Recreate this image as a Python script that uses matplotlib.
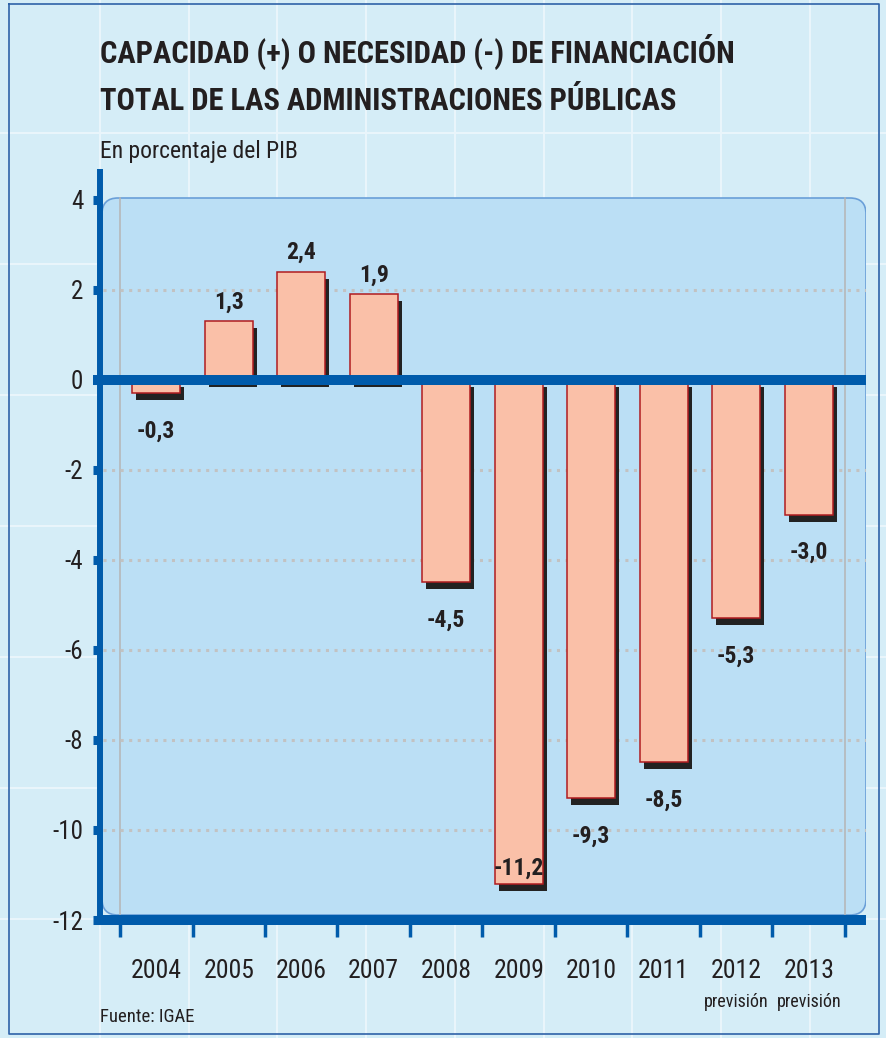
import numpy as np
import matplotlib.pyplot as plt
from matplotlib.patches import FancyBboxPatch
from matplotlib.lines import Line2D
from matplotlib.transforms import IdentityTransform, offset_copy, blended_transform_factory

# Data (% of GDP)
years = ['2004', '2005', '2006', '2007', '2008', '2009', '2010', '2011', '2012', '2013']
values = [-0.3, 1.3, 2.4, 1.9, -4.5, -11.2, -9.3, -8.5, -5.3, -3.0]
notes = ['', '', '', '', '', '', '', '', 'previsión', 'previsión']
yticks = [-12, -10, -8, -6, -4, -2, 0, 2, 4]

W, H = 886, 1038
BLUE = '#005bab'
TXT = '#231f20'

plt.rcParams['font.family'] = ['Roboto Condensed', 'Liberation Sans', 'DejaVu Sans']

fig = plt.figure(figsize=(W / 100, H / 100), dpi=100)
fig.patch.set_facecolor('#d5edf7')
px = IdentityTransform()

# faint background grid of the page
for x in np.arange(100, W, 88.7):
    fig.add_artist(Line2D([x, x], [0, H], transform=px, color='#e9f5fb', lw=1.5, zorder=-5))
for y in np.arange(H - 133, 0, -131):
    fig.add_artist(Line2D([0, W], [y, y], transform=px, color='#e9f5fb', lw=1.5, zorder=-5))
# page border
fig.add_artist(Line2D([9, 9, 879, 879, 9], [H - 4, H - 1034, H - 1034, H - 4, H - 4],
                      transform=px, color='#2f62a8', lw=1.2, zorder=-4))

ax = fig.add_axes([100 / W, 118 / H, 766 / W, 748 / H])
ax.set_facecolor('none')
ax.set_xlim(-0.776, 9.79)
ax.set_ylim(-12, 4.62)

# rounded light panel
panel = FancyBboxPatch((102, H - 915), 764, 717, boxstyle='round,pad=0,rounding_size=16',
                       transform=px, facecolor='#bbdff5', edgecolor='#6a9fd8', lw=1.2, zorder=0)
ax.add_patch(panel)

x = np.arange(len(years))
bounds = np.arange(-0.5, len(years), 1.0)

# thin grey verticals at the ends
for b in [bounds[0], bounds[-1]]:
    ax.plot([b, b], [-11.9, 4.05], color='#b5b5b5', lw=1.1, zorder=1)

# dotted grid
for t in yticks[1:-1]:
    if t != 0:
        ax.axhline(t, xmin=0.004, xmax=1, color='#c2c2c2', lw=2.2,
                   linestyle=(0, (1, 1.8)), zorder=1)

# bars with a dark drop shadow
shadow = offset_copy(ax.transData, fig=fig, x=4, y=-7, units='dots')
ax.bar(x, values, width=0.66, color='#222222', transform=shadow, zorder=2)
ax.bar(x, values, width=0.66, color='#fac0a8', edgecolor='#b01c20', linewidth=1.1, zorder=3)

# zero line
ax.axhline(0, xmin=-0.009, xmax=1, color=BLUE, lw=7.2, clip_on=False,
           solid_capstyle='butt', zorder=4)

# value labels: above positive bars, below negative ones, inside the deepest one
for i, v in enumerate(values):
    s = f'{v:.1f}'.replace('.', ',')
    if v > 0:
        off = 13
    elif v < -10:
        off = 9
    else:
        off = -44
    ax.annotate(s, (i, v), xytext=(0, off), textcoords='offset pixels', ha='center',
                va='baseline', fontsize=17, fontweight='bold', color=TXT, zorder=5)

# axes styling
for s in ['top', 'right']:
    ax.spines[s].set_visible(False)
ax.spines['left'].set_color(BLUE)
ax.spines['left'].set_linewidth(4.3)
ax.spines['bottom'].set_color(BLUE)
ax.spines['bottom'].set_linewidth(7.2)
ax.spines['bottom'].set_capstyle('butt')

ax.set_yticks(yticks)
ax.set_yticklabels([str(t) for t in yticks])
ax.tick_params(axis='y', length=5, width=6.5, color=BLUE, pad=7, labelsize=18, labelcolor=TXT)
ax.set_xticks(bounds)
ax.set_xticklabels([])
ax.tick_params(axis='x', length=12, width=2.5, color=BLUE)

# year labels under the axis
tr = blended_transform_factory(ax.transData, fig.transFigure)
for i, (yr, nt) in enumerate(zip(years, notes)):
    ax.text(i, 1 - 978 / H, yr, transform=tr, ha='center', va='baseline',
            fontsize=18.5, color=TXT)
    if nt:
        ax.text(i, 1 - 1007 / H, nt, transform=tr, ha='center', va='baseline',
                fontsize=13, color=TXT)

# titles
fig.text(100 / W, 1 - 63 / H, 'CAPACIDAD (+) O NECESIDAD (-) DE FINANCIACIÓN',
         fontsize=22, fontweight='bold', color=TXT, va='baseline')
fig.text(100 / W, 1 - 110 / H, 'TOTAL DE LAS ADMINISTRACIONES PÚBLICAS',
         fontsize=22, fontweight='bold', color=TXT, va='baseline')
fig.text(100 / W, 1 - 158 / H, 'En porcentaje del PIB', fontsize=17, color=TXT, va='baseline')
fig.text(100 / W, 1 - 1022 / H, 'Fuente: IGAE', fontsize=13.5, color=TXT, va='baseline')

fig.savefig('out.png', dpi=100)
